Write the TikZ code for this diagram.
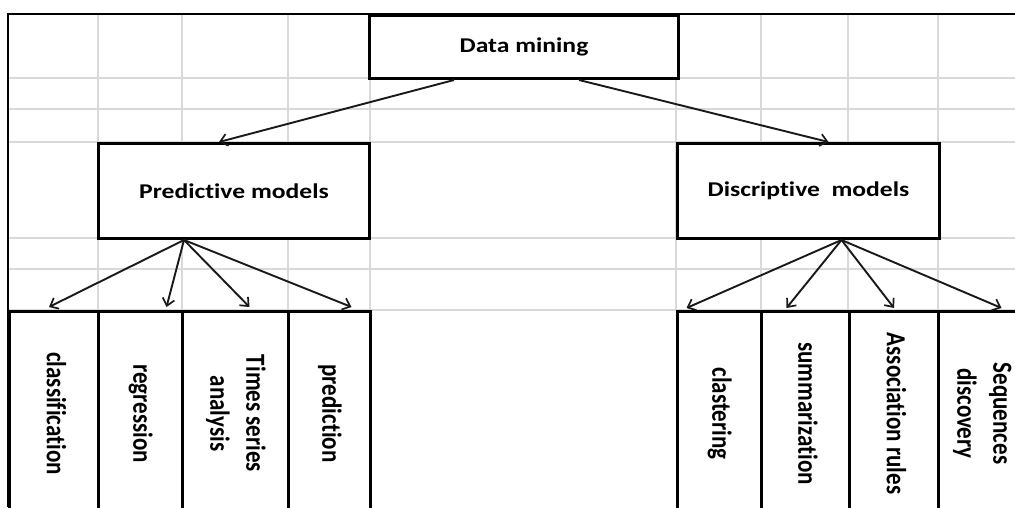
\documentclass[tikz,border=0pt]{standalone}
\usepackage{fontspec}
\setmainfont[Ligatures=NoCommon]{Carlito}
\usetikzlibrary{arrows.meta}
\definecolor{gridgray}{HTML}{D9D9D9}
\newcommand\uptext[1]{\scalebox{1.22}[1]{\fontsize{21}{25}\selectfont\bfseries #1}}
\newcommand\lowtext[1]{\rotatebox{-90}{\scalebox{1}[1.2]{\fontsize{23}{30}\selectfont\bfseries\begin{tabular}{@{}c@{}}#1\end{tabular}}}}
\begin{document}
\begin{tikzpicture}[x=1pt,y=-1pt,
  gridline/.style={draw=gridgray, line width=2pt},
  frame/.style={draw=black, line width=2.5pt},
  box/.style={draw=black, fill=white, line width=3pt, inner sep=0pt, anchor=north west},
  cellbox/.style={draw=black, fill=white, line width=3pt, inner sep=0pt, anchor=north west, minimum height=204pt},
  arr/.style={draw=black!90, line width=1.9pt, -{Straight Barb[length=7pt,width=12pt,line width=1.7pt]}}]
\useasboundingbox (0,0) rectangle (1015,507);
\clip (0,0) rectangle (1015,507);
% grid
\foreach \y in {78,109,142,238,269,310} \draw[gridline] (8,\y) -- (1015,\y);
\foreach \x in {98,182,288,370,676,761,848,938} \draw[gridline] (\x,14) -- (\x,310);
% frame
\draw[frame] (1015,14) -- (8,14) -- (8,507);
% main boxes
\node[box, minimum width=309pt, minimum height=63pt] (dm) at (368,14) {\uptext{Data mining}};
\node[box, minimum width=271pt, minimum height=95pt] (pm) at (97,142) {\uptext{Predictive models}};
\node[box, minimum width=262pt, minimum height=95pt] (dn) at (676,142) {\uptext{Discriptive\ \ models}};
% lower cells
\node[cellbox, minimum width=89pt] (c1) at (8,310) {\lowtext{classification}};
\node[cellbox, minimum width=84pt] (c2) at (97,310) {\lowtext{regression}};
\node[cellbox, minimum width=106pt] (c3) at (181,310) {\lowtext{Times series\\analysis}};
\node[cellbox, minimum width=82pt] (c4) at (287,310) {\lowtext{prediction}};
\node[cellbox, minimum width=84pt] (d1) at (676,310) {\lowtext{clastering}};
\node[cellbox, minimum width=88pt] (d2) at (760,310) {\lowtext{summarization}};
\node[cellbox, minimum width=89pt] (d3) at (848,310) {\lowtext{Association rules}};
\node[cellbox, minimum width=88pt] (d4) at (937,310) {\lowtext{Sequences\\discovery}};
% arrows
\draw[arr] ([xshift=-70pt]dm.south) -- ([xshift=-15pt]pm.north);
\draw[arr] ([xshift=55pt]dm.south) -- ([xshift=20pt]dn.north);
\draw[arr] ([xshift=-50pt]pm.south) -- ([xshift=-5pt,yshift=3pt]c1.north);
\draw[arr] ([xshift=-50pt]pm.south) -- ([xshift=26pt,yshift=3pt]c2.north);
\draw[arr] ([xshift=-50pt]pm.south) -- ([xshift=14pt,yshift=3pt]c3.north);
\draw[arr] ([xshift=-50pt]pm.south) -- ([xshift=22pt,yshift=3pt]c4.north);
\draw[arr] ([xshift=33pt]dn.south) -- ([xshift=-33pt,yshift=2pt]d1.north);
\draw[arr] ([xshift=33pt]dn.south) -- ([xshift=-19pt,yshift=2pt]d2.north);
\draw[arr] ([xshift=33pt]dn.south) -- ([xshift=0pt,yshift=2pt]d3.north);
\draw[arr] ([xshift=33pt]dn.south) -- ([xshift=19pt,yshift=2pt]d4.north);
\end{tikzpicture}
\end{document}
